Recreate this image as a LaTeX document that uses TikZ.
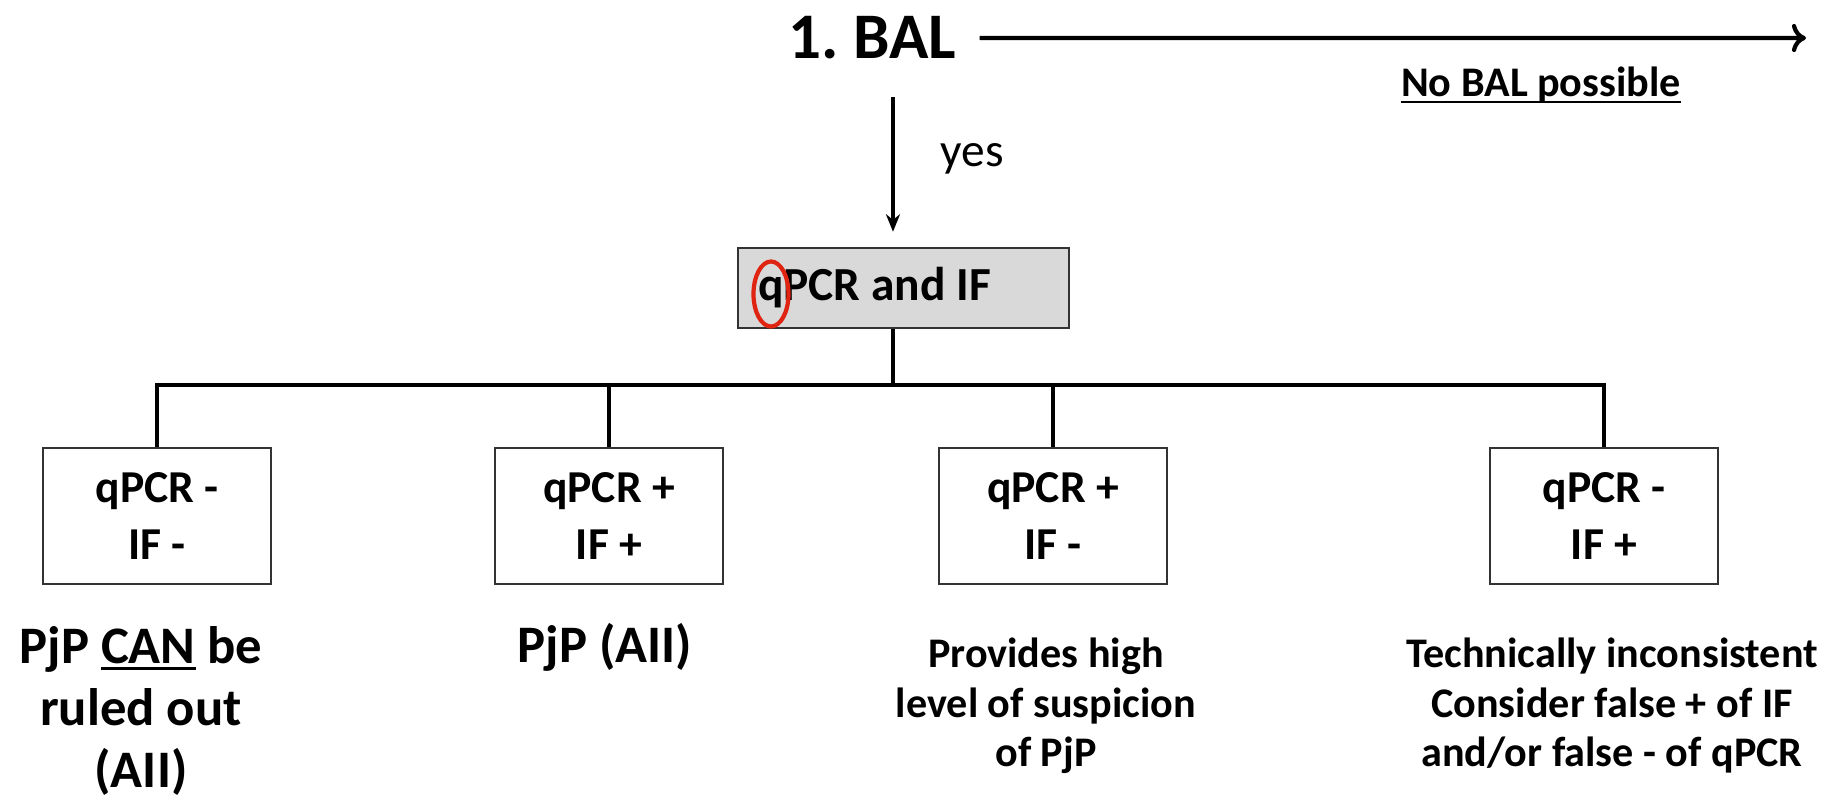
\documentclass[tikz,border=0pt]{standalone}
\usepackage{fontspec}
\setmainfont{Carlito}
\usepackage{tikz}
\usetikzlibrary{shapes,arrows.meta,positioning,fit}

\definecolor{BoxGray}{RGB}{217,217,217}
\definecolor{MarkRed}{RGB}{224,36,18}
\newcommand{\undertext}[1]{\leavevmode\setbox0=\hbox{#1}\rlap{\rule[-1.8pt]{\wd0}{0.8pt}}\box0\relax}

\begin{document}
\begin{tikzpicture}[x=0.1mm, y=-0.1mm]
		\tikzstyle{Title}	= [font=\bfseries\fontsize{18.5}{22}\selectfont, inner sep=0pt, anchor=base]
		\tikzstyle{Note}	= [font=\bfseries\fontsize{12}{14}\selectfont, inner sep=0pt, anchor=base]
		\tikzstyle{Yes}		= [font=\fontsize{13.5}{16}\selectfont, inner sep=0pt, anchor=base]
		\tikzstyle{Test}	= [draw=black!80, line width=0.7pt, fill=BoxGray, font=\bfseries\fontsize{13.5}{16}\selectfont, text width=29.1mm, inner xsep=2mm, inner ysep=0pt, minimum height=8mm, align=flush left]
		\tikzstyle{Result}	= [draw=black!80, line width=0.7pt, fill=white, font=\bfseries\fontsize{13}{16.2}\selectfont, minimum width=22.8mm, minimum height=13.6mm, align=center, inner sep=0pt]
		\tikzstyle{Big}		= [font=\bfseries\fontsize{15}{17.6}\selectfont, align=center, inner sep=0pt, anchor=base]
		\tikzstyle{Small}	= [font=\bfseries\fontsize{12}{14.2}\selectfont, align=center, inner sep=0pt, anchor=base]
		\tikzstyle{Line}	= [line width=0.9pt]
		\tikzstyle{Flow}	= [line width=0.9pt, -{Stealth[length=5pt, width=4pt]}]
		\tikzstyle{Skip}	= [line width=1.2pt, -{To[length=4pt, width=8pt]}]
		\tikzstyle{Mark}	= [ellipse, draw=MarkRed, line width=1.2pt, minimum width=3.5mm, minimum height=6.5mm, inner sep=0pt]

		\useasboundingbox (0,0) rectangle (1830,799);

		% top row
		\node (bal) at (872,59) [Title] {1.\ BAL};
		\coordinate (far) at (1806,38);
		\node (nobal) at (1541,97) [Note] {\undertext{No BAL possible}};
		\node (qpcr) at (903.5,288) [Test] {qPCR and IF};
		\node (mark) at (771,294) [Mark] {};
		\coordinate (bar) at (893,385);
		\node (yes) at (972,167) [Yes] {yes};

		\draw [Skip] (bal.east) ++(2.3mm,0) -- (far);
		\draw [Flow, shorten <=3.7mm, shorten >=1.5mm] (bal.south -| bar) to (qpcr.north -| bar);

		% the four results
		\node (r1) at (157,516) [Result] {qPCR -\\IF -};
		\node (r2) at (609,516) [Result] {qPCR +\\IF +};
		\node (r3) at (1053,516) [Result] {qPCR +\\IF -};
		\node (r4) at (1604,516) [Result] {qPCR -\\IF +};

		\draw [Line] (qpcr.south -| bar) to (bar);
		\draw [Line] (r1.north) |- (bar) -| (r4.north);
		\draw [Line] (r2.north) to (r2.north |- bar);
		\draw [Line] (r3.north) to (r3.north |- bar);

		% what each result means (base = last line)
		\node (out1) at (141,787) [Big] {PjP \undertext{CAN} be\\ruled out\\(AII)};
		\node (out2) at (605,663) [Big] {PjP (AII)};
		\node (out3) at (1046,767) [Small] {Provides high\\level of suspicion\\of PjP};
		\node (out4) at (1612,767) [Small] {Technically inconsistent\\Consider false + of IF\\and/or false - of qPCR};
	\end{tikzpicture}
\end{document}
